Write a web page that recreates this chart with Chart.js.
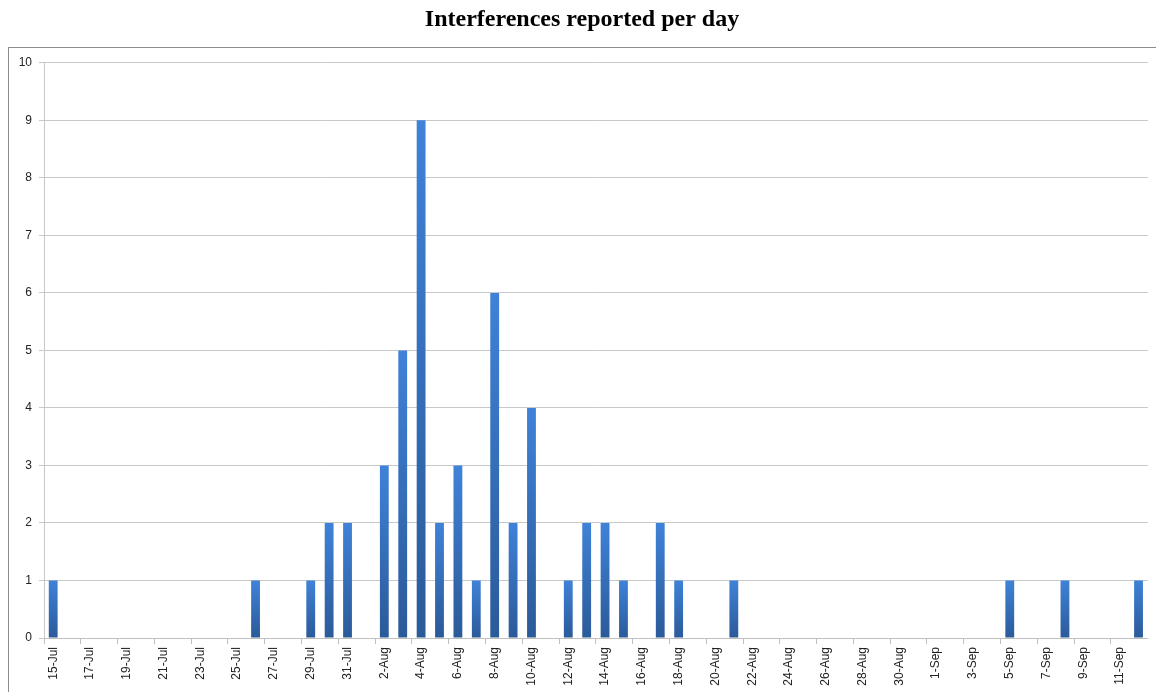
<!DOCTYPE html>
<html>
<head>
<meta charset="utf-8">
<script src="https://cdn.jsdelivr.net/npm/chart.js@4"></script>
<style>
  html, body { margin: 0; padding: 0; background: #fff; }
  #wrap { width: 1156px; height: 692px; }
</style>
</head>
<body>
<div id="wrap"><canvas id="chart"></canvas></div>
<script>
// one category per day, 15-Jul .. 12-Sep
const days = [
    '15-Jul', '16-Jul', '17-Jul', '18-Jul', '19-Jul', '20-Jul', '21-Jul', '22-Jul', '23-Jul', '24-Jul',
    '25-Jul', '26-Jul', '27-Jul', '28-Jul', '29-Jul', '30-Jul', '31-Jul',
    '1-Aug', '2-Aug', '3-Aug', '4-Aug', '5-Aug', '6-Aug', '7-Aug', '8-Aug', '9-Aug', '10-Aug',
    '11-Aug', '12-Aug', '13-Aug', '14-Aug', '15-Aug', '16-Aug', '17-Aug', '18-Aug', '19-Aug', '20-Aug',
    '21-Aug', '22-Aug', '23-Aug', '24-Aug', '25-Aug', '26-Aug', '27-Aug', '28-Aug', '29-Aug', '30-Aug', '31-Aug',
    '1-Sep', '2-Sep', '3-Sep', '4-Sep', '5-Sep', '6-Sep', '7-Sep', '8-Sep', '9-Sep', '10-Sep', '11-Sep', '12-Sep'
];

const interferences = [
    1, 0, 0, 0, 0, 0, 0, 0, 0, 0,
    0, 1, 0, 0, 1, 2, 2,
    0, 3, 5, 9, 2, 3, 1, 6, 2, 4,
    0, 1, 2, 2, 1, 0, 2, 1, 0, 0,
    1, 0, 0, 0, 0, 0, 0, 0, 0, 0, 0,
    0, 0, 0, 0, 1, 0, 0, 1, 0, 0, 0, 1
];

const yTicks = [0, 1, 2, 3, 4, 5, 6, 7, 8, 9, 10];

// grey frame around the plot, title sits above it
const framePlugin = {
    id: 'framePlugin',
    beforeDraw: (chart) => {
        const { ctx } = chart;
        ctx.save();
        ctx.strokeStyle = '#8c8c8c';
        ctx.lineWidth = 1;
        ctx.strokeRect(8.5, 47.5, chart.width + 10, chart.height + 10);
        ctx.restore();
    }
};

const barFill = (ctx) => {
    const { chart, parsed } = ctx;
    if (!chart.chartArea || !parsed) return '#3a73bf';
    const y = chart.scales.y;
    const top = y.getPixelForValue(parsed.y);
    const bottom = y.getPixelForValue(0);
    if (bottom - top < 1) return '#3a73bf';
    const g = chart.ctx.createLinearGradient(0, top, 0, bottom);
    g.addColorStop(0, '#3f82d8');
    g.addColorStop(1, '#2b5a99');
    return g;
};

new Chart(document.getElementById('chart').getContext('2d'), {
    type: 'bar',
    data: {
        labels: days,
        datasets: [{
            label: 'Interferences',
            data: interferences,
            backgroundColor: barFill,
            borderWidth: 0,
            categoryPercentage: 1,
            barPercentage: 0.48
        }]
    },
    options: {
        responsive: true,
        maintainAspectRatio: false,
        animation: false,
        layout: { padding: { left: 16, right: 8, top: 0, bottom: 0 } },
        plugins: {
            legend: { display: false },
            tooltip: { enabled: false },
            title: {
                display: true,
                text: 'Interferences reported per day',
                color: '#000',
                font: { family: '"Liberation Serif", "Times New Roman", serif', size: 24, weight: 'bold' },
                padding: { top: 5, bottom: 29 }
            }
        },
        scales: {
            x: {
                offset: true,
                grid: {
                    offset: true,
                    drawOnChartArea: false,
                    drawTicks: true,
                    tickLength: 6,
                    tickColor: (c) => (c.index % 2 === 0 ? '#bfbfbf' : 'rgba(0,0,0,0)')
                },
                border: { color: '#bfbfbf' },
                ticks: {
                    autoSkip: false,
                    minRotation: 90,
                    maxRotation: 90,
                    padding: 3,
                    color: '#222',
                    font: { family: '"Liberation Sans", Arial, sans-serif', size: 12 },
                    callback: (v, i) => (i % 2 === 0 ? days[i] : '')
                },
                afterFit: (scale) => { scale.height = 54; }
            },
            y: {
                min: 0,
                max: 10,
                afterBuildTicks: (scale) => { scale.ticks = yTicks.map(v => ({ value: v })); },
                grid: {
                    color: '#c8c8c8',
                    tickColor: '#c8c8c8',
                    tickLength: 5
                },
                border: { color: '#c8c8c8' },
                ticks: {
                    padding: 7,
                    color: '#222',
                    font: { family: '"Liberation Sans", Arial, sans-serif', size: 12 }
                },
                afterFit: (scale) => { scale.width = 28; }
            }
        }
    },
    plugins: [framePlugin]
});
</script>
</body>
</html>
